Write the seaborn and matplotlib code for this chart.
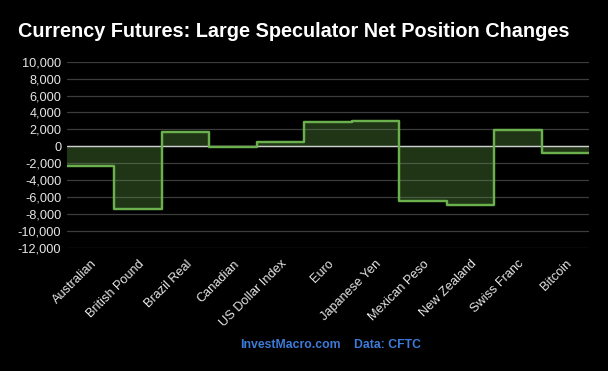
import numpy as np
import pandas as pd
import matplotlib
matplotlib.use('Agg')
from matplotlib import pyplot as plt
from matplotlib.ticker import FuncFormatter
import seaborn as sns

# data
currencies = ['Australian', 'British Pound', 'Brazil Real', 'Canadian', 'US Dollar Index', 'Euro',
              'Japanese Yen', 'Mexican Peso', 'New Zealand', 'Swiss Franc', 'Bitcoin']
net_change = [-2350, -7380, 1680, -120, 500, 2820, 3010, -6400, -6900, 1950, -750]

# colours
line_color = '#6ab04c'
grid_color = '#3c3c3c'
text_color = '#e6e6e6'
footer_color = '#3d7bd9'

sns.set_style('dark')
plt.rcParams['font.family'] = ['Liberation Sans', 'DejaVu Sans']

# step line: each category covers the band [i-0.5, i+0.5]
pos = np.arange(len(currencies))
step_df = pd.DataFrame({
    'x': np.ravel(np.column_stack([pos - 0.5, pos + 0.5])),
    'y': np.repeat(net_change, 2),
})

fig = plt.figure(figsize=(6.08, 3.71), dpi=100, facecolor='black')
ax = fig.add_axes([0.110, 0.331, 0.859, 0.503])
ax.set_facecolor('black')

ax.grid(axis='y', color=grid_color, linewidth=0.9, zorder=0)
ax.grid(axis='x', visible=False)
ax.set_axisbelow(True)
# translucent fill so the grid shows through
ax.fill_between(step_df['x'], step_df['y'], 0, color=line_color, alpha=0.3,
                linewidth=0, zorder=1)
ax.axhline(0, color='#cfcfcf', linewidth=1.0, zorder=2)
sns.lineplot(data=step_df, x='x', y='y', sort=False, estimator=None, errorbar=None,
             color=line_color, linewidth=1.75, solid_joinstyle='round',
             solid_capstyle='round', ax=ax, zorder=3)

ax.set_xlim(-0.5, len(currencies) - 0.5)
ax.set_ylim(-12000, 10000)
ax.set_yticks(np.arange(-12000, 10001, 2000))
ax.yaxis.set_major_formatter(FuncFormatter(lambda v, p: f'{int(v):,}'))
ax.set_xticks(pos)
ax.set_xticklabels(currencies, rotation=45, ha='right', rotation_mode='anchor')
ax.tick_params(axis='both', colors=text_color, labelsize=9.2, length=0)
ax.tick_params(axis='x', pad=7)
ax.tick_params(axis='y', pad=4)
for s in ax.spines.values():
    s.set_visible(False)
ax.set_xlabel('')
ax.set_ylabel('')

fig.text(0.030, 0.915, 'Currency Futures: Large Speculator Net Position Changes',
         color='white', fontsize=14.3, fontweight='bold', ha='left', va='center')
fig.text(0.395, 0.070, 'InvestMacro.com', color=footer_color, fontsize=8.8,
         fontweight='bold', ha='left', va='center')
fig.text(0.583, 0.070, 'Data: CFTC', color=footer_color, fontsize=8.8,
         fontweight='bold', ha='left', va='center')

fig.savefig('out.png', dpi=100, facecolor='black')
